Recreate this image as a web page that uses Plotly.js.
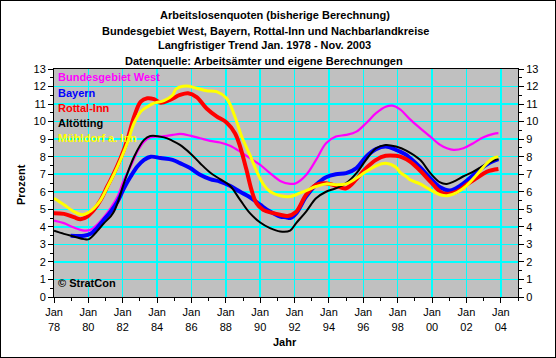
<!DOCTYPE html>
<html>
<head>
<meta charset="utf-8">
<script src="https://cdn.plot.ly/plotly-3.0.1.min.js"></script>
<style>
html,body{margin:0;padding:0;background:#fff;}
#wrap{width:556px;height:358px;border:1px solid #000;box-sizing:border-box;overflow:hidden;}
#chart{width:554px;height:356px;}
</style>
</head>
<body>
<div id="wrap"><div id="chart"></div></div>
<script>
// ---- data ----
const westX = [1978.0,1978.58,1979.16,1979.75,1980.13,1980.5,1980.9,1981.3,1981.7,1982.07,1982.46,1982.85,1983.24,1983.63,1984.2,1984.9,1985.33,1985.92,1986.5,1987.08,1987.66,1988.24,1988.83,1989.4,1990.0,1990.57,1991.16,1991.74,1992.08,1992.67,1993.25,1993.83,1994.4,1995.0,1995.6,1996.16,1996.74,1997.3,1997.7,1998.14,1998.72,1999.3,1999.9,2000.47,2000.86,2001.25,2001.82,2002.4,2002.99,2003.57,2003.86];
const westY = [4.36,4.21,3.96,3.79,3.83,4.12,4.55,5.07,5.73,6.68,7.44,8.29,8.86,9.11,9.15,9.24,9.3,9.2,9.05,8.9,8.81,8.62,8.29,7.92,7.53,7.06,6.62,6.45,6.49,6.96,7.82,8.77,9.15,9.24,9.43,9.91,10.48,10.85,10.91,10.7,10.13,9.63,9.14,8.67,8.48,8.39,8.48,8.77,9.11,9.3,9.34];

const bayX = [1978.97,1979.75,1980.13,1980.5,1980.9,1981.3,1981.7,1982.07,1982.46,1982.85,1983.24,1983.63,1984.2,1984.9,1985.33,1985.92,1986.5,1987.08,1987.66,1988.24,1988.83,1989.4,1990.0,1990.57,1991.16,1991.5,1991.74,1992.08,1992.67,1993.25,1993.83,1994.4,1995.0,1995.6,1996.16,1996.74,1997.3,1997.9,1998.14,1998.5,1998.72,1999.3,1999.9,2000.47,2001.05,2001.63,2002.2,2002.8,2003.38,2003.86];
const bayY = [3.49,3.49,3.6,3.93,4.4,4.87,5.45,6.2,6.87,7.44,7.82,8.0,7.92,7.82,7.63,7.35,6.97,6.72,6.58,6.34,6.0,5.69,5.26,4.87,4.59,4.55,4.5,4.75,5.73,6.4,6.83,7.0,7.06,7.35,8.0,8.43,8.58,8.39,8.29,8.1,7.92,7.4,6.78,6.26,6.07,6.34,6.78,7.29,7.67,7.86];

const rotX = [1978.0,1978.58,1979.16,1979.55,1979.94,1980.33,1980.72,1981.1,1981.49,1981.88,1982.27,1982.66,1983.05,1983.43,1983.82,1984.2,1984.75,1985.33,1985.8,1986.3,1986.88,1987.46,1988.04,1988.53,1988.83,1989.2,1989.49,1989.78,1990.17,1990.76,1991.16,1991.6,1992.08,1992.67,1993.25,1993.83,1994.4,1995.0,1995.6,1996.16,1996.74,1997.3,1997.9,1998.3,1998.72,1999.3,1999.9,2000.47,2000.86,2001.44,2002.0,2002.6,2003.2,2003.86];
const rotY = [4.78,4.74,4.55,4.44,4.59,4.97,5.54,6.3,7.06,7.92,8.96,10.28,11.14,11.33,11.28,11.08,11.24,11.52,11.62,11.4,10.75,10.3,9.95,9.34,8.58,7.25,6.11,5.35,4.97,4.78,4.69,4.62,4.85,5.83,6.4,6.49,6.34,6.2,6.72,7.35,7.82,8.05,8.05,7.95,7.72,7.21,6.58,6.01,5.88,6.01,6.4,6.78,7.15,7.3];

const altX = [1978.0,1978.58,1979.16,1979.75,1980.04,1980.5,1980.9,1981.3,1981.49,1981.75,1982.07,1982.66,1983.24,1983.6,1984.4,1984.87,1985.33,1985.92,1986.5,1987.08,1987.66,1988.24,1988.83,1989.4,1990.0,1990.57,1991.16,1991.74,1992.08,1992.67,1993.25,1993.83,1994.4,1995.0,1995.6,1996.16,1996.74,1997.3,1997.9,1998.5,1999.3,1999.9,2000.47,2000.86,2001.25,2001.8,2002.4,2002.97,2003.55,2003.86];
const altY = [3.78,3.6,3.45,3.3,3.3,3.74,4.2,4.6,4.87,5.5,6.49,8.0,8.96,9.18,9.1,8.92,8.67,8.2,7.63,7.1,6.72,6.34,5.54,4.78,4.25,3.93,3.74,3.79,4.2,4.87,5.63,6.0,6.2,6.49,7.06,7.82,8.48,8.67,8.58,8.35,7.82,7.06,6.53,6.45,6.58,6.87,7.15,7.48,7.76,7.88];

const muehX = [1978.0,1978.58,1979.16,1979.65,1979.94,1980.33,1980.72,1981.1,1981.49,1981.88,1982.27,1982.66,1983.05,1983.43,1983.82,1984.4,1984.9,1985.1,1985.7,1986.3,1986.88,1987.46,1988.04,1988.53,1988.92,1989.4,1989.8,1990.2,1990.57,1991.16,1991.74,1992.08,1992.67,1993.25,1993.83,1994.4,1995.0,1995.6,1996.16,1996.74,1997.3,1997.9,1998.14,1998.5,1998.72,1999.3,1999.9,2000.47,2000.86,2001.44,2002.0,2002.6,2003.2,2003.57,2003.86];
const muehY = [5.63,5.26,4.87,4.69,4.78,5.07,5.54,6.25,7.0,7.85,8.8,9.91,10.57,10.85,11.05,11.2,11.5,11.85,12.03,11.9,11.76,11.71,11.33,10.28,9.15,8.1,7.15,6.4,6.01,5.77,5.73,5.83,6.07,6.3,6.45,6.4,6.45,6.78,7.15,7.48,7.63,7.4,7.1,6.87,6.68,6.45,6.11,5.83,5.77,5.96,6.34,6.97,7.63,7.92,8.0];

const seriesNames = ["Bundesgebiet West","Bayern","Rottal-Inn","Altötting","Mühldorf a. Inn"];
const seriesColors = ["#FF00FF","#0000FF","#FF0000","#000000","#FFFF00"];
const tickYears = [1978,1980,1982,1984,1986,1988,1990,1992,1994,1996,1998,2000,2002,2004];
const tickText = ["Jan<br>78","Jan<br>80","Jan<br>82","Jan<br>84","Jan<br>86","Jan<br>88","Jan<br>90","Jan<br>92","Jan<br>94","Jan<br>96","Jan<br>98","Jan<br>00","Jan<br>02","Jan<br>04"];
const titleLines = ["Arbeitslosenquoten (bisherige Berechnung)","Bundesgebiet West, Bayern, Rottal-Inn und Nachbarlandkreise","Langfristiger Trend Jan. 1978 - Nov. 2003","Datenquelle: Arbeitsämter und eigene Berechnungen"];

// ---- layout helpers (page pixel -> paper) ----
const L=53, T=68, W=554, H=356, R=37, B=60;
const PW = W-L-R, PH = H-T-B;
const px = p => (p-1-L)/PW;
const py = p => (H-B-(p-1))/PH;

const xs=[westX,bayX,rotX,altX,muehX], ys=[westY,bayY,rotY,altY,muehY];
const widths=[2.2,4,4,2,3];
const traces = seriesNames.map((n,i)=>({
  x: xs[i], y: ys[i], name: n, type:'scatter', mode:'lines',
  line:{color:seriesColors[i], width:widths[i], shape:'spline', smoothing:1},
  hoverinfo:'skip'
}));
traces.push({x:[1978],y:[0],yaxis:'y2',mode:'markers',marker:{opacity:0},showlegend:false,hoverinfo:'skip'});

const F = 'Liberation Sans, Arial, sans-serif';
const ann = [];
const titleCx=[275.3,265,264,264], titleCy=[15,30.7,45.3,60.7];
titleLines.forEach((t,i)=>ann.push({text:'<b>'+t+'</b>',xref:'paper',yref:'paper',x:px(titleCx[i]),y:py(titleCy[i]),xanchor:'center',yanchor:'middle',showarrow:false,font:{family:F,size:11,color:'#000'}}));
const legCy=[77.3,93.3,108.3,122.7,138.3];
seriesNames.forEach((n,i)=>ann.push({text:'<b>'+n+'</b>',xref:'paper',yref:'paper',x:px(56),y:py(legCy[i]),xanchor:'left',yanchor:'middle',showarrow:false,font:{family:F,size:11,color:seriesColors[i]}}));
ann.push({text:'<b>© StratCon</b>',xref:'paper',yref:'paper',x:px(56),y:py(282.7),xanchor:'left',yanchor:'middle',showarrow:false,font:{family:F,size:11,color:'#000'}});
ann.push({text:'<b>Prozent</b>',xref:'paper',yref:'paper',x:px(21),y:py(185),xanchor:'center',yanchor:'middle',textangle:-90,showarrow:false,font:{family:F,size:11,color:'#000'}});
ann.push({text:'<b>Jahr</b>',xref:'paper',yref:'paper',x:px(284.5),y:py(342),xanchor:'center',yanchor:'middle',showarrow:false,font:{family:F,size:11,color:'#000'}});

const layout = {
  width:W, height:H, margin:{l:L,r:R,t:T,b:B,pad:0},
  paper_bgcolor:'#ffffff', plot_bgcolor:'#C0C0C0',
  showlegend:false,
  font:{family:F,size:11,color:'#000'},
  xaxis:{range:[1978,2005], tickmode:'array', tickvals:tickYears, ticktext:tickText,
    showgrid:true, gridcolor:'#00FFFF', gridwidth:1.5, zeroline:false,
    showline:true, linecolor:'#000', linewidth:1, mirror:true,
    ticks:'outside', ticklen:5, tickcolor:'#000', tickfont:{family:F,size:11},
    minor:{dtick:1, tick0:1978, ticks:'outside', ticklen:3, tickcolor:'#000', showgrid:false},
    fixedrange:true},
  yaxis:{range:[0,13], dtick:1, tick0:0, showgrid:true, gridcolor:'#00FFFF', gridwidth:1.5, zeroline:false,
    showline:true, linecolor:'#000', linewidth:1,
    ticks:'outside', ticklen:5, tickcolor:'#000', tickfont:{family:F,size:11},
    minor:{dtick:0.5, ticks:'outside', ticklen:3, tickcolor:'#000', showgrid:false},
    fixedrange:true},
  yaxis2:{range:[0,13], dtick:1, tick0:0, overlaying:'y', side:'right', showgrid:false, zeroline:false,
    showline:true, linecolor:'#000', linewidth:1,
    ticks:'outside', ticklen:5, tickcolor:'#000', tickfont:{family:F,size:11},
    minor:{dtick:0.5, ticks:'outside', ticklen:3, tickcolor:'#000', showgrid:false},
    fixedrange:true},
  annotations:ann
};
Plotly.newPlot('chart', traces, layout, {staticPlot:true, displayModeBar:false});
</script>
</body>
</html>
